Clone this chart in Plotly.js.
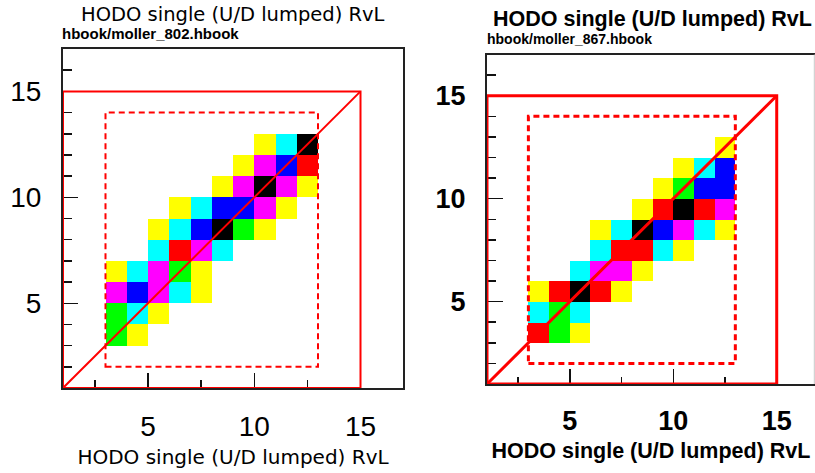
<!DOCTYPE html>
<html>
<head>
<meta charset="utf-8">
<script src="https://cdn.plot.ly/plotly-3.0.1.min.js"></script>
<style>
  html, body { margin: 0; padding: 0; background: #ffffff; }
  #chart { width: 815px; height: 473px; }
</style>
</head>
<body>
<div id="chart"></div>
<script>
// Colour levels of the lego plots: 1 yellow, 2 cyan, 3 green, 4 magenta, 5 red, 6 blue, 7 black
const levelColors = ['#ffff00', '#00ffff', '#00ff00', '#ff00ff', '#ff0000', '#0000ff', '#000000'];

// Run 802: one entry per row of bins (lower y edge, first x bin, levels along x)
const run802RowY = [3, 4, 5, 6, 7, 8, 9, 10, 11, 12];
const run802RowStart = [3, 3, 3, 3, 5, 5, 6, 8, 9, 10];
const run802RowLevels = [
  [3, 1],
  [3, 2, 1],
  [4, 6, 4, 2, 1],
  [1, 2, 4, 3, 1],
  [2, 5, 4, 2],
  [1, 2, 6, 7, 3, 1],
  [1, 2, 6, 6, 4, 1],
  [1, 4, 7, 4, 1],
  [1, 4, 6, 5],
  [1, 2, 7]
];

// Run 867
const run867RowY = [3, 4, 5, 6, 7, 8, 9, 10, 11, 12];
const run867RowStart = [3, 3, 3, 5, 6, 6, 8, 9, 10, 12];
const run867RowLevels = [
  [5, 3, 1],
  [2, 3, 2],
  [1, 5, 7, 5, 1],
  [2, 4, 4, 1],
  [2, 5, 5, 2, 1],
  [1, 2, 7, 6, 4, 2, 1],
  [1, 5, 7, 5, 4],
  [1, 3, 6, 6],
  [1, 2, 6],
  [1]
];

// Paddle numbering and the cut windows overlaid in red
const paddleRange = [1, 15];
const cutX = [3, 13];
const cutY = [2, 14];

const titleText = 'HODO single (U/D lumped) RvL';
const fileNames = ['hbook/moller_802.hbook', 'hbook/moller_867.hbook'];
const tickValues = [5, 10, 15];

// Build a 16x16 grid of bins (lower edges 1..16) from the row lists
function buildGrid(rowY, rowStart, rowLevels) {
  const nb = 16;
  const centers = [];
  for (let i = 0; i < nb; i++) centers.push(1.5 + i);
  const z = [];
  for (let j = 0; j < nb; j++) z.push(new Array(nb).fill(null));
  rowY.forEach((y, r) => {
    rowLevels[r].forEach((lv, k) => {
      z[y - 1][rowStart[r] - 1 + k] = lv;
    });
  });
  return { x: centers, y: centers.slice(), z: z };
}

const nLev = levelColors.length;
const colorscale = [];
levelColors.forEach((c, i) => {
  colorscale.push([i / nLev, c]);
  colorscale.push([(i + 1) / nLev, c]);
});

function heat(grid, xa, ya) {
  return {
    type: 'heatmap', x: grid.x, y: grid.y, z: grid.z,
    xaxis: xa, yaxis: ya,
    colorscale: colorscale, zmin: 0.5, zmax: nLev + 0.5,
    showscale: false, hoverinfo: 'skip', xgap: 0, ygap: 0
  };
}

const g802 = buildGrid(run802RowY, run802RowStart, run802RowLevels);
const g867 = buildGrid(run867RowY, run867RowStart, run867RowLevels);

const data = [heat(g802, 'x', 'y'), heat(g867, 'x2', 'y2')];

// Red overlay: full paddle square, its diagonal and the dashed cut window
function overlay(xr, yr, w) {
  const lo = paddleRange[0], hi = paddleRange[1];
  const red = '#ff0000';
  return [
    { type: 'rect', xref: xr, yref: yr, x0: lo, x1: hi, y0: lo, y1: hi, line: { color: red, width: w }, layer: 'above' },
    { type: 'line', xref: xr, yref: yr, x0: lo, x1: hi, y0: lo, y1: hi, line: { color: red, width: w }, layer: 'above' },
    { type: 'rect', xref: xr, yref: yr, x0: cutX[0], x1: cutX[1], y0: cutY[0], y1: cutY[1],
      line: { color: red, width: w, dash: '6px,4px' }, layer: 'above' }
  ];
}

const W = 815, H = 473;
function dx(a, b) { return [a / W, Math.min(b / W, 1)]; }
function dy(top, bottom) { return [(H - bottom) / H, (H - top) / H]; }

const regFont = 'Liberation Sans, Arial, sans-serif';
const wideFont = 'DejaVu Sans, sans-serif';

function axisCommon(extra) {
  return Object.assign({
    showgrid: false, zeroline: false, showline: true, linecolor: '#222', linewidth: 2,
    ticks: 'inside', tickcolor: '#111', tickwidth: 1.5,
    tickvals: tickValues, ticktext: tickValues.map(String),
    fixedrange: true
  }, extra);
}

const layout = {
  width: W, height: H,
  margin: { l: 0, r: 0, t: 0, b: 0 },
  paper_bgcolor: '#ffffff', plot_bgcolor: '#ffffff',
  showlegend: false,
  xaxis: axisCommon({
    domain: dx(63, 403), range: [1, 17], anchor: 'y', mirror: true,
    ticklen: 15, minor: { dtick: 2.5, tick0: 0, ticklen: 8, tickcolor: '#111', tickwidth: 1.5, ticks: 'inside' },
    tickfont: { family: regFont, size: 28, color: '#000' }, ticklabelstandoff: 12,
    title: { text: titleText, font: { family: wideFont, size: 20, color: '#000' }, standoff: 9 }
  }),
  yaxis: axisCommon({
    domain: dy(49, 388), range: [1, 17], anchor: 'x', mirror: true,
    ticklen: 15, minor: { dtick: 1, tick0: 0, ticklen: 9, tickcolor: '#111', tickwidth: 1.5, ticks: 'inside' },
    tickfont: { family: regFont, size: 28, color: '#000' }, ticklabelstandoff: 14
  }),
  xaxis2: axisCommon({
    domain: dx(487, 815), range: [1, 16.85], anchor: 'y2', mirror: true,
    ticklen: 15, minor: { dtick: 2.5, tick0: 0, ticklen: 7, tickcolor: '#111', tickwidth: 1.5, ticks: 'inside' },
    tickfont: { family: regFont, size: 27, color: '#000', weight: 'bold' }, ticklabelstandoff: 12,
    title: { text: titleText, font: { family: regFont, size: 21.5, color: '#000', weight: 'bold' }, standoff: 8 }
  }),
  yaxis2: axisCommon({
    domain: dy(54.5, 384), range: [1, 17], anchor: 'x2', mirror: false,
    ticklen: 16, minor: { dtick: 1, tick0: 0, ticklen: 9, tickcolor: '#111', tickwidth: 1.5, ticks: 'inside' },
    tickfont: { family: regFont, size: 27, color: '#000', weight: 'bold' }, ticklabelstandoff: 14
  }),
  shapes: overlay('x', 'y', 2).concat(overlay('x2', 'y2', 3)).concat([
    { type: 'line', xref: 'paper', yref: 'paper', x0: 814.3 / W, x1: 814.3 / W, y0: (H - 384) / H, y1: (H - 54.5) / H,
      line: { color: '#c8c8c8', width: 1 } }
  ]),
  annotations: [
    { text: titleText, xref: 'paper', yref: 'paper', x: 232.5 / W, y: 1 - 14 / H, xanchor: 'center', yanchor: 'middle',
      showarrow: false, borderpad: 0, font: { family: wideFont, size: 19.5, color: '#000' } },
    { text: fileNames[0], xref: 'paper', yref: 'paper', x: 61 / W, y: 1 - 33.5 / H, xanchor: 'left', yanchor: 'middle',
      showarrow: false, borderpad: 0, font: { family: regFont, size: 15, color: '#000', weight: 'bold' } },
    { text: titleText, xref: 'paper', yref: 'paper', x: 652 / W, y: 1 - 19 / H, xanchor: 'center', yanchor: 'middle',
      showarrow: false, borderpad: 0, font: { family: regFont, size: 21.5, color: '#000', weight: 'bold' } },
    { text: fileNames[1], xref: 'paper', yref: 'paper', x: 486 / W, y: 1 - 39 / H, xanchor: 'left', yanchor: 'middle',
      showarrow: false, borderpad: 0, font: { family: regFont, size: 14, color: '#000', weight: 'bold' } }
  ]
};

Plotly.newPlot('chart', data, layout, { staticPlot: true, displayModeBar: false });
</script>
</body>
</html>
